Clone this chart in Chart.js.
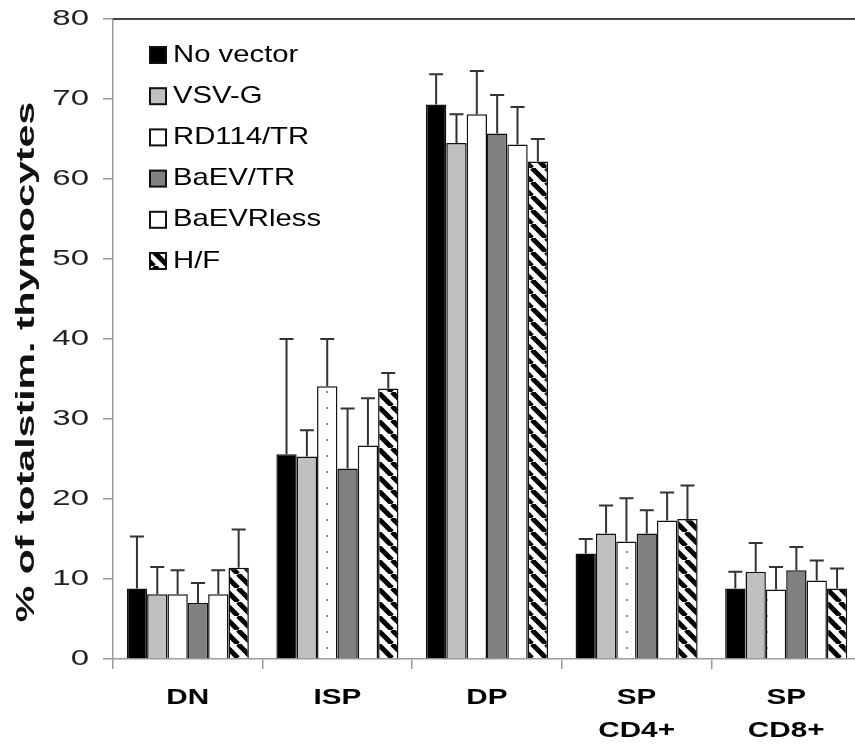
<!DOCTYPE html>
<html><head><meta charset="utf-8">
<script src="https://cdn.jsdelivr.net/npm/chart.js@4.4.0/dist/chart.umd.min.js"></script>
<style>html,body{margin:0;padding:0;background:#fff;overflow:hidden;} canvas{display:block;}</style>
</head><body>
<canvas id="c" width="861" height="744" style="width:861px;height:744px"></canvas>
<script>
// ---- data ----
const categories = ['DN', 'ISP', 'DP', ['SP', 'CD4+'], ['SP', 'CD8+']];
const seriesNames = ['No vector', 'VSV-G', 'RD114/TR', 'BaEV/TR', 'BaEVRless', 'H/F'];
const noVector        = [8.8, 25.6, 69.3, 13.2, 8.8];
const noVectorErrTop  = [15.3, 40.0, 73.1, 15.0, 10.9];
const vsvG            = [8.1, 25.3, 64.5, 15.7, 10.9];
const vsvGErrTop      = [11.5, 28.6, 68.1, 19.2, 14.5];
const rd114           = [8.1, 34.1, 68.1, 14.7, 8.7];
const rd114ErrTop     = [11.1, 40.0, 73.5, 20.1, 11.5];
const baevTR          = [7.0, 23.8, 65.7, 15.7, 11.1];
const baevTRErrTop    = [9.5, 31.3, 70.5, 18.6, 14.0];
const baevRless       = [8.1, 26.7, 64.3, 17.3, 9.8];
const baevRlessErrTop = [11.1, 32.6, 69.0, 20.8, 12.3];
const hf              = [11.4, 33.8, 62.2, 17.5, 8.8];
const hfErrTop        = [16.2, 35.75, 65.0, 21.7, 11.3];
const yTickValues = [0, 10, 20, 30, 40, 50, 60, 70, 80];
const yTitle = '% of totalstim. thymocytes';

// ---- rendering ----
const canvas = document.getElementById('c');
const ctx = canvas.getContext('2d');
// the reference lettering is wide: stretch glyphs along their baseline, per font
const STRETCH = { '22': 1.5, 'b22': 1.35, 'b26': 1.58, '24': 1.22 };
const origFill = CanvasRenderingContext2D.prototype.fillText;
ctx.fillText = function (t, x, y) {
  const m = /(\d+(?:\.\d+)?)px/.exec(this.font);
  const key = (/bold/.test(this.font) ? 'b' : '') + (m ? Math.round(+m[1]) : '');
  const sx = STRETCH[key] || 1;
  this.save(); this.translate(x, y); this.scale(sx, 1);
  origFill.call(this, t, 0, 0); this.restore();
};

function dotPattern() {
  const c = document.createElement('canvas'); c.width = 20; c.height = 16;
  const g = c.getContext('2d');
  g.fillStyle = '#fff'; g.fillRect(0, 0, 20, 16);
  g.fillStyle = '#888'; g.fillRect(6, 7, 2, 2);
  return ctx.createPattern(c, 'repeat');
}
function hatchPattern() {
  const n = 14;
  const c = document.createElement('canvas'); c.width = n; c.height = n;
  const g = c.getContext('2d');
  g.fillStyle = '#fff'; g.fillRect(0, 0, n, n);
  g.strokeStyle = '#000'; g.lineWidth = 5;
  for (const o of [-n, 0, n]) { g.beginPath(); g.moveTo(o, 0); g.lineTo(o + n, n); g.stroke(); }
  return ctx.createPattern(c, 'repeat');
}

const seriesValues = [noVector, vsvG, rd114, baevTR, baevRless, hf];
const seriesErr = [noVectorErrTop, vsvGErrTop, rd114ErrTop, baevTRErrTop, baevRlessErrTop, hfErrTop];
const fills = ['#000000', '#c0c0c0', dotPattern(), '#808080', '#ffffff', hatchPattern()];

const datasets = seriesNames.map((name, i) => ({
  label: name,
  data: seriesValues[i],
  errTop: seriesErr[i],
  backgroundColor: fills[i],
  borderColor: '#111',
  borderWidth: 1.5,
  categoryPercentage: 0.816,
  barPercentage: 1.0
}));

const FONT = "'Liberation Sans', Arial, sans-serif";

const errorBars = {
  id: 'errorBars',
  afterDatasetsDraw(chart) {
    const c = chart.ctx, ys = chart.scales.y;
    c.save(); c.strokeStyle = '#333'; c.lineWidth = 2;
    chart.data.datasets.forEach((ds, di) => {
      chart.getDatasetMeta(di).data.forEach((bar, i) => {
        const yE = ys.getPixelForValue(ds.errTop[i]);
        c.beginPath();
        c.moveTo(bar.x, bar.y); c.lineTo(bar.x, yE);
        c.moveTo(bar.x - 7, yE); c.lineTo(bar.x + 7, yE);
        c.stroke();
      });
    });
    c.restore();
  }
};

const frameAndLegend = {
  id: 'frameAndLegend',
  afterDraw(chart) {
    const c = chart.ctx, a = chart.chartArea;
    c.save();
    c.strokeStyle = '#444'; c.lineWidth = 2;
    c.beginPath(); c.moveTo(a.left, a.top); c.lineTo(chart.width, a.top); c.stroke();
    // y-axis title
    c.save();
    c.translate(27, 362); c.rotate(-Math.PI / 2);
    c.font = 'bold 26px ' + FONT; c.fillStyle = '#111';
    c.textAlign = 'center'; c.textBaseline = 'middle';
    c.fillText(yTitle, 0, 0);
    c.restore();
    // legend
    c.font = '24px ' + FONT; c.textBaseline = 'middle'; c.textAlign = 'left';
    chart.data.datasets.forEach((ds, i) => {
      const cy = 55 + i * 41.2;
      c.fillStyle = ds.backgroundColor;
      c.fillRect(150, cy - 8, 16, 16);
      c.strokeStyle = '#111'; c.lineWidth = 2;
      c.strokeRect(150, cy - 8, 16, 16);
      c.fillStyle = '#000';
      c.fillText(ds.label, 173, cy);
    });
    c.restore();
  }
};

new Chart(canvas, {
  type: 'bar',
  data: { labels: categories, datasets },
  options: {
    responsive: false,
    animation: false,
    devicePixelRatio: 1,
    layout: { padding: { top: 19, right: 0, left: 0, bottom: 0 } },
    plugins: { legend: { display: false }, tooltip: { enabled: false } },
    scales: {
      x: {
        offset: true,
        afterFit(s) { s.height = 85; },
        grid: { offset: true, drawOnChartArea: false, drawTicks: true, tickLength: 10, color: '#999', lineWidth: 1.5 },
        border: { color: '#999', width: 1.5 },
        ticks: { font: { family: FONT, size: 22, weight: 'bold', lineHeight: 1.5 }, color: '#000', padding: 12, maxRotation: 0, autoSkip: false }
      },
      y: {
        min: 0, max: 80,
        afterFit(s) { s.width = 113; s.paddingTop = 0; s.paddingBottom = 0; },
        afterBuildTicks(s) { s.ticks = yTickValues.map(v => ({ value: v })); },
        grid: { drawOnChartArea: false, drawTicks: true, tickLength: 10, color: '#999', lineWidth: 1.5 },
        border: { color: '#999', width: 1.5 },
        ticks: { font: { family: FONT, size: 22 }, color: '#222', padding: 14 }
      }
    }
  },
  plugins: [errorBars, frameAndLegend]
});
</script>
</body></html>
